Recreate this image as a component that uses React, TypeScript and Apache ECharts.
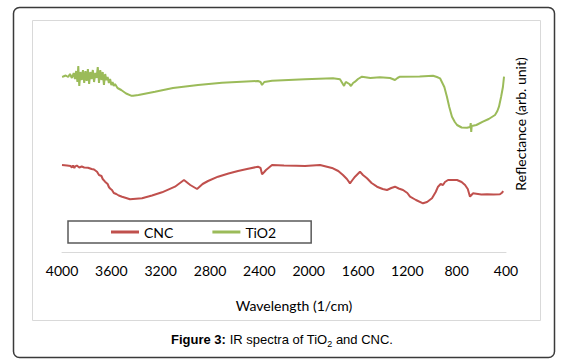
import React, { useEffect, useRef } from "react";
import * as echarts from "echarts";

// Wavenumber (1/cm) and reflectance (arb. unit)
const tio2Wn = [4000, 3990, 3970, 3950, 3935, 3920, 3905, 3895, 3885, 3875, 3868, 3860, 3850, 3840, 3830, 3820, 3810, 3800, 3790, 3780, 3770, 3760, 3750, 3740, 3730, 3720, 3710, 3700, 3690, 3680, 3670, 3660, 3650, 3640, 3630, 3620, 3610, 3600, 3590, 3580, 3570, 3550, 3520, 3480, 3440, 3424, 3380, 3246, 3100, 2897, 2703, 2411, 2390, 2378, 2360, 2297, 2030, 1803, 1746, 1713, 1700, 1689, 1670, 1657, 1640, 1624, 1600, 1568, 1500, 1422, 1340, 1300, 1280, 1260, 1100, 992, 960, 935, 900, 879, 860, 838, 815, 797, 760, 716, 690, 686, 682, 678, 640, 587, 540, 489, 470, 457, 440, 425, 416];
const tio2Val = [175.3, 175.5, 176.5, 175, 178, 174, 179, 173, 181, 170, 186, 166, 180, 172, 182, 169, 181, 171, 183, 168, 180, 173, 182, 170, 179, 174, 185, 169, 182, 172, 180, 167, 178, 172, 175, 169, 173, 167, 170, 166, 168, 164, 162, 158.5, 156.3, 156.3, 157, 160.3, 164, 167, 169.3, 171, 170, 167, 170, 171.3, 172.7, 173.7, 172.7, 166, 170, 169.3, 168, 166, 169, 170.3, 173, 175.3, 174, 174.7, 174, 172, 174, 175.3, 175.5, 176.3, 175, 173.7, 165, 155.3, 145, 135.3, 130, 127, 124.5, 124.3, 125, 129, 120, 126, 127, 130.3, 133, 137, 141, 145.3, 155, 165, 175.3];

const cncWn = [4000, 3960, 3930, 3920, 3910, 3900, 3895, 3880, 3860, 3840, 3820, 3789, 3760, 3740, 3716, 3700, 3680, 3670, 3651, 3630, 3620, 3610, 3595, 3580, 3560, 3540, 3513, 3480, 3449, 3400, 3351, 3270, 3189, 3084, 3011, 2960, 2905, 2860, 2816, 2735, 2650, 2573, 2500, 2411, 2390, 2378, 2360, 2346, 2297, 2200, 2100, 2030, 1908, 1803, 1760, 1722, 1690, 1665, 1645, 1624, 1584, 1560, 1527, 1490, 1446, 1400, 1365, 1330, 1300, 1270, 1235, 1200, 1178, 1130, 1073, 1040, 1000, 970, 951, 930, 911, 895, 870, 820, 797, 760, 732, 710, 692, 680, 668, 600, 554, 500, 449, 430, 424];
const cncVal = [87, 86.5, 86, 84.5, 86.5, 84, 85.3, 86.5, 84.5, 85.5, 84.5, 84.3, 83, 82.5, 80.3, 77, 76, 73, 70.3, 68, 65, 63.5, 62, 59, 58, 56.5, 55.3, 54, 52.7, 53.2, 53.7, 56.5, 59.7, 65.3, 72, 67, 63, 68, 71, 75.3, 78.5, 81, 83, 85.3, 84, 77.7, 80, 82, 87, 86.5, 86.3, 86, 87, 83.7, 81, 77, 73, 68.7, 72, 75.3, 80.3, 77, 73.7, 69, 65.3, 63, 62, 64, 65.3, 63.5, 62, 59, 55.3, 52, 48.7, 50, 53.7, 60, 65.3, 68, 67, 70, 72, 72, 72, 70, 67, 63, 55.3, 57, 58.7, 57.5, 57.7, 57.5, 57.7, 59.5, 61];

const seriesNames = ["CNC", "TiO2"];
const seriesColors = ["#c0504d", "#9bbb59"];
const xMin = 400;
const xMax = 4000;
const xStep = 400;

export default function App() {
  const ref = useRef<HTMLDivElement>(null);
  useEffect(() => {
    if (!ref.current) return;
    document.body.style.margin = "0";
    const chart = echarts.init(ref.current, undefined, { renderer: "svg" });
    const cncData = cncWn.map((w, i) => [w, cncVal[i]]);
    const tio2Data = tio2Wn.map((w, i) => [w, tio2Val[i]]);
    chart.setOption({
      animation: false,
      backgroundColor: "#ffffff",
      grid: { left: 62, right: 55, top: 52, bottom: 112 },
      xAxis: {
        type: "value",
        inverse: true,
        min: xMin,
        max: xMax,
        interval: xStep,
        axisLine: { show: true, lineStyle: { color: "#d9d9d9", width: 1 } },
        axisTick: { show: false },
        splitLine: { show: false },
        axisLabel: {
          color: "#000",
          fontFamily: "Lato",
          fontSize: 14,
          margin: 11,
          formatter: (v: number) => String(v),
        },
      },
      yAxis: {
        type: "value",
        min: 0,
        max: 200,
        show: false,
        splitLine: { show: false },
      },
      legend: {
        left: 68,
        top: 221,
        orient: "horizontal",
        padding: [4, 35, 4, 43],
        itemGap: 39,
        itemWidth: 28,
        itemHeight: 3,
        icon: "rect",
        borderColor: "#595959",
        borderWidth: 1.5,
        textStyle: { color: "#000", fontFamily: "Lato", fontSize: 14 },
        data: seriesNames,
      },
      series: [
        {
          name: seriesNames[0],
          type: "line",
          data: cncData,
          showSymbol: false,
          symbol: "none",
          color: seriesColors[0],
          lineStyle: { color: seriesColors[0], width: 2 },
        },
        {
          name: seriesNames[1],
          type: "line",
          data: tio2Data,
          showSymbol: false,
          symbol: "none",
          color: seriesColors[1],
          lineStyle: { color: seriesColors[1], width: 2 },
        },
      ],
      graphic: [
        {
          type: "rect",
          z: -1,
          shape: { x: 13.5, y: 7.5, width: 541, height: 350, r: 6 },
          style: { fill: "none", stroke: "#3a3a3a", lineWidth: 1.5 },
        },
        {
          type: "rect",
          z: -1,
          shape: { x: 32.5, y: 20.5, width: 508, height: 300 },
          style: { fill: "none", stroke: "#d9d9d9", lineWidth: 1 },
        },
        {
          type: "text",
          x: 294,
          y: 305,
          style: {
            text: "Wavelength (1/cm)",
            fontFamily: "Lato",
            fontSize: 14,
            fill: "#000",
            align: "center",
            verticalAlign: "middle",
          },
        },
        {
          type: "text",
          x: 520,
          y: 124,
          rotation: Math.PI / 2,
          style: {
            text: "Reflectance (arb. unit)",
            fontFamily: "Lato",
            fontSize: 14,
            fill: "#000",
            align: "center",
            verticalAlign: "middle",
          },
        },
        {
          type: "text",
          x: 282,
          y: 339,
          style: {
            text: "{b|Figure 3:}{n| IR spectra of TiO}{s|2}{n| and CNC.}",
            align: "center",
            verticalAlign: "middle",
            rich: {
              b: { fontFamily: "Liberation Sans", fontSize: 13, fontWeight: "bold", fill: "#000", lineHeight: 18, verticalAlign: "middle" },
              n: { fontFamily: "Liberation Sans", fontSize: 13, fill: "#000", lineHeight: 18, verticalAlign: "middle" },
              s: { fontFamily: "Liberation Sans", fontSize: 9, fill: "#000", lineHeight: 10, verticalAlign: "bottom" },
            },
          },
        },
      ],
    });
    return () => chart.dispose();
  }, []);
  return <div ref={ref} style={{ width: 561, height: 364 }} />;
}
